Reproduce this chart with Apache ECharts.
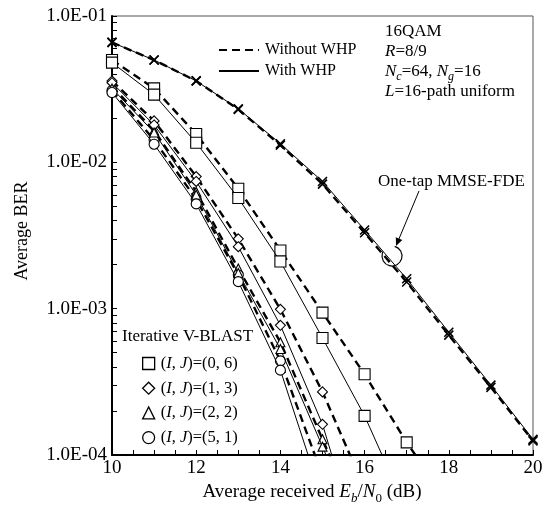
<!DOCTYPE html>
<html><head><meta charset="utf-8">
<script src="https://cdn.jsdelivr.net/npm/echarts@6/dist/echarts.min.js"></script>
<style>html,body{margin:0;padding:0;background:#fff}#c{width:554px;height:516px}</style>
</head><body><div id="c"></div>
<script>
// ---- data ----
const snr = [10, 11, 12, 13, 14, 15, 16, 17, 18, 19, 20];
const mmseWithout = [0.066, 0.050, 0.036, 0.0230, 0.0131, 0.0071, 0.00330, 0.00152, 0.00066, 0.000290, 0.000125];
const mmseWith    = [0.066, 0.050, 0.036, 0.0232, 0.0134, 0.0074, 0.00345, 0.00160, 0.00069, 0.000300, 0.000128];
const ij06Without = [0.050, 0.032, 0.0156, 0.0066, 0.00250, 0.00094, 0.000356, 0.000122, 0.000046];
const ij06With    = [0.048, 0.029, 0.0136, 0.0057, 0.00210, 0.00063, 0.000185, 0.000042];
const ij13Without = [0.036, 0.0192, 0.0080, 0.0030, 0.00099, 0.000270, 0.000059];
const ij13With    = [0.035, 0.0180, 0.0074, 0.00265, 0.00077, 0.000162, 0.000018];
const ij22Without = [0.033, 0.0165, 0.0063, 0.00188, 0.00059, 0.000128, 0.000028];
const ij22With    = [0.032, 0.0160, 0.0060, 0.00175, 0.00053, 0.000114, 0.000024];
const ij51Without = [0.031, 0.0142, 0.0056, 0.00170, 0.00044, 0.000072];
const ij51With    = [0.030, 0.0133, 0.0052, 0.00153, 0.00038, 0.000050];
const xLabelValues = [10, 12, 14, 16, 18, 20];
const xTickValues = [10, 10.5, 11, 11.5, 12, 12.5, 13, 13.5, 14, 14.5, 15, 15.5, 16, 16.5, 17, 17.5, 18, 18.5, 19, 19.5, 20];
const yLabelValues = [1e-4, 1e-3, 1e-2, 1e-1];
const yTickValues = [1e-4, 2e-4, 3e-4, 4e-4, 5e-4, 6e-4, 7e-4, 8e-4, 9e-4,
                     1e-3, 2e-3, 3e-3, 4e-3, 5e-3, 6e-3, 7e-3, 8e-3, 9e-3,
                     1e-2, 2e-2, 3e-2, 4e-2, 5e-2, 6e-2, 7e-2, 8e-2, 9e-2, 1e-1];
const legendLines = ['Without WHP', 'With WHP'];
const legendMarks = ['(0, 6)', '(1, 3)', '(2, 2)', '(5, 1)'];

const FF = "'Liberation Serif','Times New Roman',serif";
const pairs = arr => arr.map((v, i) => [snr[i], v]);
const CROSS = 'path://M0,0L10,10M10,0L0,10';

function curve(name, data, dashed, symbol, size) {
  return {
    name: name, type: 'line', data: pairs(data), clip: true,
    symbol: symbol, symbolSize: size, showSymbol: true,
    lineStyle: dashed ? {color: '#000', width: 2.4, type: [8, 5]} : {color: '#000', width: 1},
    itemStyle: {color: symbol === CROSS ? 'rgba(0,0,0,0)' : '#fff', borderColor: '#000', borderWidth: symbol === CROSS ? 1.6 : 1.1},
    z: dashed ? 3 : 4, silent: true
  };
}

const series = [
  curve('mmseWo', mmseWithout, true, CROSS, 9),
  curve('mmseW', mmseWith, false, CROSS, 9),
  curve('06wo', ij06Without, true, 'rect', 11),
  curve('06w', ij06With, false, 'rect', 11),
  curve('13wo', ij13Without, true, 'diamond', 10),
  curve('13w', ij13With, false, 'diamond', 10),
  curve('22wo', ij22Without, true, 'triangle', 9),
  curve('22w', ij22With, false, 'triangle', 9),
  curve('51wo', ij51Without, true, 'circle', 10),
  curve('51w', ij51With, false, 'circle', 10),
  {name: legendLines[0], type: 'line', data: [], symbol: 'none', lineStyle: {color: '#000', width: 2.4, type: [8, 5]}, itemStyle: {color: '#000'}},
  {name: legendLines[1], type: 'line', data: [], symbol: 'none', lineStyle: {color: '#000', width: 1}, itemStyle: {color: '#000'}}
];
legendMarks.forEach(n => series.push({name: n, type: 'line', data: [], symbol: 'none', itemStyle: {color: '#000'}}));

const markIcons = ['rect', 'diamond', 'triangle', 'circle'];

const fmtY = v => {
  const e = Math.round(Math.log10(v));
  const s = Math.abs(e) < 10 ? '0' + Math.abs(e) : '' + Math.abs(e);
  return '1.0E' + (e < 0 ? '-' : '+') + s;
};

const richBase = {
  n: {fontFamily: FF, fontSize: 19, lineHeight: 26, verticalAlign: 'middle', fill: '#000', color: '#000'},
  i: {fontFamily: FF, fontSize: 19, fontStyle: 'italic', lineHeight: 26, verticalAlign: 'middle', fill: '#000', color: '#000'},
  si: {fontFamily: FF, fontSize: 13, fontStyle: 'italic', lineHeight: 13, verticalAlign: 'bottom', fill: '#000', color: '#000'},
  s: {fontFamily: FF, fontSize: 13, lineHeight: 13, verticalAlign: 'bottom', fill: '#000', color: '#000'}
};
const rich17 = {
  n: {fontFamily: FF, fontSize: 17, lineHeight: 22, verticalAlign: 'middle', fill: '#000', color: '#000'},
  i: {fontFamily: FF, fontSize: 17, fontStyle: 'italic', lineHeight: 22, verticalAlign: 'middle', fill: '#000', color: '#000'},
  si: {fontFamily: FF, fontSize: 12, fontStyle: 'italic', lineHeight: 12, verticalAlign: 'bottom', fill: '#000', color: '#000'}
};

function txt(x, y, text, rich, align) {
  return {type: 'text', x: x, y: y, silent: true,
    style: {text: text, rich: rich, fontFamily: FF, fontSize: 17, fill: '#000', align: align || 'left', verticalAlign: 'middle'}};
}

const chart = echarts.init(document.getElementById('c'), null, {renderer: 'canvas'});
chart.setOption({
  animation: false,
  backgroundColor: '#fff',
  grid: {left: 112, right: 21, top: 16, bottom: 61, show: true, borderColor: '#555', borderWidth: 1, containLabel: false},
  xAxis: {
    type: 'value', min: 10, max: 20, interval: 2,
    axisLine: {show: true, onZero: false, lineStyle: {color: '#000', width: 2}},
    axisTick: {show: true, inside: true, length: 5, customValues: xTickValues, lineStyle: {color: '#000', width: 1}},
    axisLabel: {show: true, customValues: xLabelValues, margin: 4, fontFamily: FF, fontSize: 19, color: '#000'},
    splitLine: {show: false}
  },
  yAxis: {
    type: 'log', logBase: 10, min: 1e-4, max: 1e-1,
    axisLine: {show: true, onZero: false, lineStyle: {color: '#000', width: 2}},
    axisTick: {show: true, inside: true, length: 5, customValues: yTickValues, lineStyle: {color: '#000', width: 1}},
    axisLabel: {show: true, customValues: yLabelValues, margin: 5, fontFamily: FF, fontSize: 19, color: '#000', formatter: fmtY},
    splitLine: {show: false}, minorTick: {show: false}
  },
  legend: [
    {
      data: legendLines.map(n => ({name: n, itemStyle: {opacity: 0, borderWidth: 0}})),
      orient: 'vertical', left: 213, top: 37, itemWidth: 40, itemHeight: 12, itemGap: 5,
      selectedMode: false, textStyle: {fontFamily: FF, fontSize: 16, color: '#000', padding: [0, 0, 0, 1]}
    },
    {
      data: legendMarks.map((n, k) => ({name: n, icon: markIcons[k],
        itemStyle: {color: '#fff', borderColor: '#000', borderWidth: 1.3}})),
      orient: 'vertical', left: 137, top: 350, itemWidth: 12, itemHeight: 12, itemGap: 7.7,
      selectedMode: false,
      formatter: n => '{n|(}{i|I}{n|, }{i|J}{n|)=' + n + '}',
      textStyle: {fontFamily: FF, fontSize: 16.5, color: '#000', padding: [0, 0, 0, 1],
        rich: {n: {fontFamily: FF, fontSize: 16.5, color: '#000'}, i: {fontFamily: FF, fontSize: 16.5, fontStyle: 'italic', color: '#000'}}}
    }
  ],
  series: series,
  graphic: [
    txt(312, 492, '{n|Average received }{i|E}{si|b}{n|/}{i|N}{s|0}{n| (dB)}', richBase, 'center'),
    {type: 'text', x: 22, y: 231, rotation: Math.PI / 2, silent: true,
      style: {text: 'Average BER', fontFamily: FF, fontSize: 18, fill: '#000', align: 'center', verticalAlign: 'middle'}},
    txt(385, 32, '16QAM', null),
    txt(385, 52, '{i|R}{n|=8/9}', rich17),
    txt(385, 72, '{i|N}{si|c}{n|=64, }{i|N}{si|g}{n|=16}', rich17),
    txt(385, 92, '{i|L}{n|=16-path uniform}', rich17),
    txt(378, 182, 'One-tap MMSE-FDE', null),
    txt(122, 337, 'Iterative V-BLAST', null),
    {type: 'line', silent: true, shape: {x1: 419, y1: 191, x2: 398.5, y2: 240}, style: {stroke: '#000', lineWidth: 1}},
    {type: 'polygon', silent: true, shape: {points: [[396, 246], [402.3, 239.9], [395.8, 237.3]]}, style: {fill: '#000'}},
    {type: 'arc', silent: true, shape: {cx: 392, cy: 256, r: 10, startAngle: -1.3, endAngle: 3.6, clockwise: true}, style: {stroke: '#000', lineWidth: 1.2, fill: null}}
  ]
});
</script></body></html>
